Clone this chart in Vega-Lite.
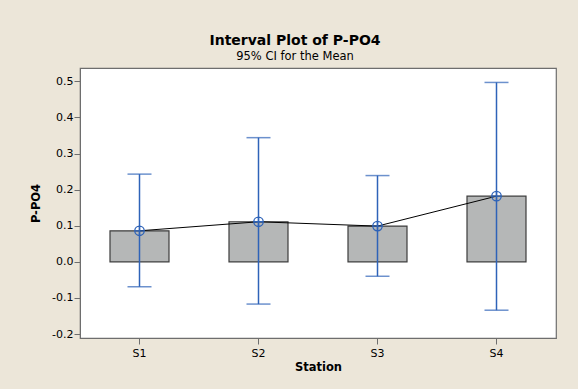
{
  "$schema": "https://vega.github.io/schema/vega-lite/v6.json",
  "width": 476,
  "height": 270,
  "autosize": {"type": "none"},
  "padding": {"left": 80, "top": 68, "right": 22, "bottom": 51},
  "background": "#ECE6D9",
  "title": {
    "text": "Interval Plot of P-PO4",
    "subtitle": "95% CI for the Mean",
    "anchor": "middle",
    "dx": -23,
    "offset": 6,
    "font": "DejaVu Sans",
    "fontSize": 14,
    "fontWeight": "bold",
    "color": "#000000",
    "subtitleFont": "DejaVu Sans",
    "subtitleFontSize": 11.5,
    "subtitleColor": "#000000",
    "subtitlePadding": 3
  },
  "config": {
    "view": {"stroke": "#6e6e6e", "strokeWidth": 1.2, "fill": "#ffffff"},
    "axis": {
      "labelFont": "DejaVu Sans",
      "labelFontSize": 11,
      "labelColor": "#000000",
      "titleFont": "DejaVu Sans",
      "titleFontSize": 11.5,
      "titleFontWeight": "bold",
      "titleColor": "#000000",
      "domainColor": "#6e6e6e",
      "tickColor": "#6e6e6e",
      "tickSize": 6,
      "grid": false,
      "labelOverlap": false
    }
  },
  "data": {
    "values": [
      {"Station": "S1", "mean": 0.086, "lower": -0.069, "upper": 0.243},
      {"Station": "S2", "mean": 0.111, "lower": -0.117, "upper": 0.344},
      {"Station": "S3", "mean": 0.099, "lower": -0.040, "upper": 0.239},
      {"Station": "S4", "mean": 0.182, "lower": -0.134, "upper": 0.497}
    ]
  },
  "encoding": {
    "x": {
      "field": "Station",
      "type": "nominal",
      "scale": {"paddingInner": 0, "paddingOuter": 0},
      "axis": {"labelAngle": 0, "title": "Station", "labelPadding": 3, "titlePadding": 3}
    }
  },
  "layer": [
    {
      "mark": {"type": "bar", "size": 59, "fill": "#B5B7B7", "stroke": "#3c3c3c", "strokeWidth": 1.2},
      "encoding": {
        "y": {
          "field": "mean",
          "type": "quantitative",
          "scale": {"domain": [-0.211, 0.537], "nice": false, "zero": false},
          "axis": {
            "title": "P-PO4",
            "values": [-0.2, -0.1, 0, 0.1, 0.2, 0.3, 0.4, 0.5],
            "tickCount": 8,
            "labelExpr": "replace(format(datum.value, '.1f'), '\u2212', '-')",
            "titlePadding": 10,
            "labelPadding": 1
          }
        }
      }
    },
    {
      "mark": {"type": "line", "color": "#000000", "strokeWidth": 1},
      "encoding": {"y": {"field": "mean", "type": "quantitative", "axis": {"title": "P-PO4", "values": [-0.2, -0.1, 0, 0.1, 0.2, 0.3, 0.4, 0.5], "tickCount": 8}}}
    },
    {
      "mark": {"type": "rule", "color": "#2E63B8", "strokeWidth": 1.5},
      "encoding": {
        "y": {"field": "lower", "type": "quantitative", "axis": {"title": "P-PO4", "values": [-0.2, -0.1, 0, 0.1, 0.2, 0.3, 0.4, 0.5], "tickCount": 8}},
        "y2": {"field": "upper"}
      }
    },
    {
      "mark": {"type": "tick", "color": "#2E63B8", "size": 24, "thickness": 1.5, "orient": "horizontal"},
      "encoding": {"y": {"field": "lower", "type": "quantitative", "axis": {"title": "P-PO4", "values": [-0.2, -0.1, 0, 0.1, 0.2, 0.3, 0.4, 0.5], "tickCount": 8}}}
    },
    {
      "mark": {"type": "tick", "color": "#2E63B8", "size": 24, "thickness": 1.5, "orient": "horizontal"},
      "encoding": {"y": {"field": "upper", "type": "quantitative", "axis": {"title": "P-PO4", "values": [-0.2, -0.1, 0, 0.1, 0.2, 0.3, 0.4, 0.5], "tickCount": 8}}}
    },
    {
      "mark": {
        "type": "point",
        "shape": "M -1 0 A 1 1 0 1 0 1 0 A 1 1 0 1 0 -1 0 M -1 0 L 1 0 M 0 -1 L 0 1",
        "size": 90,
        "filled": false,
        "stroke": "#2E63B8",
        "strokeWidth": 1.3,
        "opacity": 1
      },
      "encoding": {"y": {"field": "mean", "type": "quantitative", "axis": {"title": "P-PO4", "values": [-0.2, -0.1, 0, 0.1, 0.2, 0.3, 0.4, 0.5], "tickCount": 8}}}
    }
  ]
}
